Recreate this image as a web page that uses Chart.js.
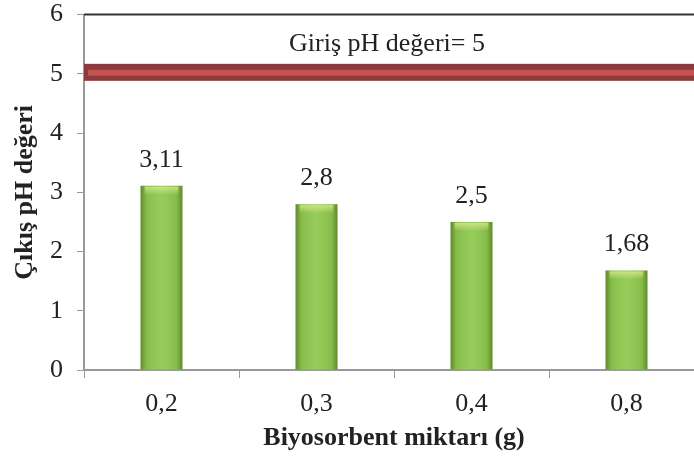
<!DOCTYPE html>
<html>
<head>
<meta charset="utf-8">
<script src="https://cdn.jsdelivr.net/npm/chart.js@4/dist/chart.umd.min.js"></script>
<style>
  html, body { margin: 0; padding: 0; background: #fff; overflow: hidden; }
  #wrap { width: 694px; height: 460px; overflow: hidden; position: relative; }
  #c { position: absolute; left: 0; top: -15px; }
</style>
</head>
<body>
<div id="wrap"><canvas id="c" width="704" height="475"></canvas></div>
<script>
// Biyosorbent miktarına göre çıkış pH değerleri
const categories = ['0,2', '0,3', '0,4', '0,8'];
const outletPH = [3.11, 2.8, 2.5, 1.68];
const valueLabels = ['3,11', '2,8', '2,5', '1,68'];
const inletPH = 5;
const inletLabel = 'Giriş pH değeri= 5';
const yTicks = [0, 1, 2, 3, 4, 5, 6];

const serif = '"Liberation Serif", "Times New Roman", serif';

// Giriş pH çizgisi, üst çerçeve, çubuk gölgeleri ve değer etiketleri
const decor = {
  id: 'decor',
  afterDatasetsDraw(chart) {
    const ctx = chart.ctx;
    const area = chart.chartArea;
    const y = chart.scales.y;
    const meta = chart.getDatasetMeta(0);

    // bar shading: darker edges, light top cap
    meta.data.forEach((bar) => {
      const left = bar.x - bar.width / 2;
      const right = bar.x + bar.width / 2;
      const g = ctx.createLinearGradient(left, 0, right, 0);
      g.addColorStop(0, 'rgba(50,75,15,0.5)');
      g.addColorStop(0.14, 'rgba(50,75,15,0.1)');
      g.addColorStop(0.5, 'rgba(255,255,255,0.06)');
      g.addColorStop(0.86, 'rgba(50,75,15,0.1)');
      g.addColorStop(1, 'rgba(50,75,15,0.5)');
      ctx.save();
      ctx.fillStyle = g;
      ctx.fillRect(left, bar.y, bar.width, bar.base - bar.y);
      const cap = ctx.createLinearGradient(0, bar.y, 0, bar.y + 9);
      cap.addColorStop(0, 'rgba(225,240,150,0.8)');
      cap.addColorStop(1, 'rgba(225,240,150,0)');
      ctx.fillStyle = cap;
      ctx.fillRect(left + 4, bar.y + 1, bar.width - 8, 9);
      ctx.restore();
    });

    // value labels
    ctx.save();
    ctx.font = '26px ' + serif;
    ctx.fillStyle = '#222';
    ctx.textAlign = 'center';
    ctx.textBaseline = 'alphabetic';
    meta.data.forEach((bar, i) => {
      ctx.fillText(valueLabels[i], bar.x, bar.y - 19);
    });
    ctx.restore();

    // inlet pH line
    const py = y.getPixelForValue(inletPH);
    ctx.save();
    ctx.fillStyle = '#8b3a3d';
    ctx.fillRect(area.left, py - 10, area.right - area.left, 17);
    ctx.fillStyle = '#c4524f';
    ctx.fillRect(area.left + 4, py - 4, area.right - area.left - 4, 6);
    ctx.restore();

    // inlet label
    ctx.save();
    ctx.font = '26px ' + serif;
    ctx.fillStyle = '#222';
    ctx.textAlign = 'center';
    ctx.textBaseline = 'middle';
    ctx.fillText(inletLabel, 387, y.getPixelForValue(5.5));
    ctx.restore();

    // top frame line
    ctx.save();
    ctx.strokeStyle = '#333';
    ctx.lineWidth = 2;
    ctx.beginPath();
    ctx.moveTo(area.left, area.top);
    ctx.lineTo(area.right, area.top);
    ctx.stroke();
    ctx.restore();
  }
};

new Chart(document.getElementById('c'), {
  type: 'bar',
  data: {
    labels: categories,
    datasets: [{
      data: outletPH,
      backgroundColor: '#8fc94f',
      borderWidth: 0,
      barPercentage: 0.54,
      categoryPercentage: 0.5
    }]
  },
  options: {
    responsive: false,
    animation: false,
    devicePixelRatio: 1,
    layout: { padding: { left: 0, right: 0, top: 14, bottom: 0 } },
    plugins: { legend: { display: false }, tooltip: { enabled: false } },
    scales: {
      x: {
        grid: { drawOnChartArea: false, tickLength: 8, color: '#999', offset: true },
        border: { color: '#999', width: 2 },
        ticks: { color: '#222', font: { family: serif, size: 26 }, padding: 11 },
        title: {
          display: true, text: 'Biyosorbent miktarı (g)', color: '#222',
          font: { family: serif, size: 26, weight: 'bold' }, padding: { top: 4, bottom: 6 }
        },
        afterFit: (s) => { s.height = 90; }
      },
      y: {
        min: 0, max: 6,
        afterBuildTicks: (s) => { s.ticks = yTicks.map((v) => ({ value: v })); },
        grid: { drawOnChartArea: false, tickLength: 7, color: '#999' },
        border: { color: '#999', width: 2 },
        ticks: { color: '#222', font: { family: serif, size: 26 }, padding: 14 },
        title: {
          display: true, text: 'Çıkış pH değeri', color: '#222',
          font: { family: serif, size: 26, weight: 'bold' }, padding: { top: 10, bottom: 10 }
        },
        afterFit: (s) => { s.width = 84; }
      }
    }
  },
  plugins: [decor]
});
</script>
</body>
</html>
